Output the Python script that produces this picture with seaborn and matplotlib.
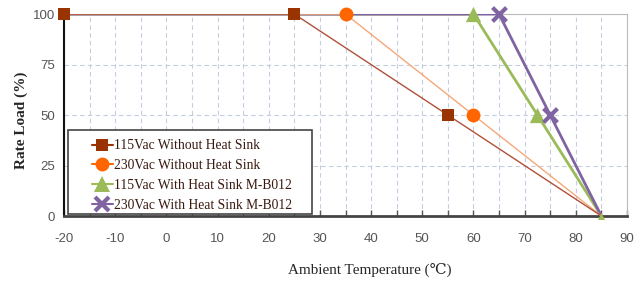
"""
Derating curve: rate load vs ambient temperature.
"""

import matplotlib.pyplot as plt
import seaborn as sns
from matplotlib.patches import Rectangle
from matplotlib.ticker import MultipleLocator

# ==========================================================
# Data
# ==========================================================

LABELS = [
    "115Vac Without Heat Sink",
    "230Vac Without Heat Sink",
    "115Vac With Heat Sink M-B012",
    "230Vac With Heat Sink M-B012",
]

TEMP_115_NO_SINK = [-20, 25, 55, 85]
LOAD_115_NO_SINK = [100, 100, 50, 0]

TEMP_230_NO_SINK = [-20, 35, 60, 85]
LOAD_230_NO_SINK = [100, 100, 50, 0]

TEMP_115_SINK = [-20, 60, 72.5, 85]
LOAD_115_SINK = [100, 100, 50, 0]

TEMP_230_SINK = [-20, 65, 75, 85]
LOAD_230_SINK = [100, 100, 50, 0]

# which points carry a marker
MARK_115_NO_SINK = [0, 1, 2]
MARK_230_NO_SINK = [1, 2]
MARK_115_SINK = [1, 2]
MARK_230_SINK = [1, 2]

# ==========================================================
# Style
# ==========================================================

sns.set_style("white")
plt.rcParams["font.family"] = ["Liberation Sans", "DejaVu Sans"]
plt.rcParams["axes.unicode_minus"] = False

SERIF = ["Liberation Serif", "DejaVu Serif"]

fig = plt.figure(figsize=(6.44, 2.82), dpi=100)
ax = fig.add_axes([0.0994, 0.234, 0.8742, 0.716])

# (x, y, marked points, marker, size, marker colour, line colour, width, z)
series = [
    (TEMP_115_NO_SINK, LOAD_115_NO_SINK, MARK_115_NO_SINK,
     "s", 9, "#993300", "#b0503a", 1.0, 3.4),
    (TEMP_230_NO_SINK, LOAD_230_NO_SINK, MARK_230_NO_SINK,
     "o", 10, "#ff6600", "#f5a878", 1.0, 3.3),
    (TEMP_115_SINK, LOAD_115_SINK, MARK_115_SINK,
     "^", 11, "#9bbb59", "#9bbb59", 2.0, 3.1),
    (TEMP_230_SINK, LOAD_230_SINK, MARK_230_SINK,
     "x", 10, "#8064a2", "#8064a2", 2.0, 3.2),
]

handles = []

for (xs, ys, marks, mk, ms, mcolor, lcolor, lw, z), label in zip(series, LABELS):

    sns.lineplot(
        x=xs,
        y=ys,
        ax=ax,
        color=lcolor,
        linewidth=lw,
        sort=False,
        zorder=z
    )

    sns.scatterplot(
        x=[xs[i] for i in marks],
        y=[ys[i] for i in marks],
        ax=ax,
        marker=mk,
        s=ms ** 2,
        color=mcolor,
        linewidth=3 if mk == "x" else 0,
        clip_on=False,
        zorder=4
    )

    h, = ax.plot(
        [], [],
        color=mcolor,
        marker=mk,
        markersize=ms,
        markeredgewidth=3 if mk == "x" else 0,
        linewidth=1.5
    )
    handles.append(h)

# small marker at the end point
sns.scatterplot(
    x=[TEMP_115_SINK[-1]],
    y=[LOAD_115_SINK[-1]],
    ax=ax,
    marker="^",
    s=25,
    color="#9bbb59",
    linewidth=0,
    clip_on=False,
    zorder=5
)

# ==========================================================
# Axes
# ==========================================================

ax.set_xlim(-20, 90)
ax.set_ylim(0, 100)

ax.xaxis.set_major_locator(MultipleLocator(10))
ax.xaxis.set_minor_locator(MultipleLocator(5))
ax.yaxis.set_major_locator(MultipleLocator(25))

ax.grid(
    which="both",
    axis="x",
    color="#c5cde0",
    linestyle=(0, (4, 3)),
    linewidth=0.8
)
ax.grid(
    which="major",
    axis="y",
    color="#c5cde0",
    linestyle=(0, (4, 3)),
    linewidth=0.8
)

ax.tick_params(
    axis="x",
    which="both",
    direction="in",
    length=4,
    width=1,
    color="#555555",
    bottom=True,
    labelsize=9.5,
    labelcolor="#555555",
    pad=12
)
ax.tick_params(
    axis="y",
    which="both",
    left=False,
    labelsize=9.5,
    labelcolor="#555555",
    pad=3
)

for side in ["top", "right"]:
    ax.spines[side].set_color("#bbbbbb")
    ax.spines[side].set_linewidth(0.8)

ax.spines["left"].set_color("#111111")
ax.spines["left"].set_linewidth(1.5)
ax.spines["bottom"].set_color("#444444")
ax.spines["bottom"].set_linewidth(2)

ax.set_xlabel(
    "Ambient Temperature (℃)",
    family=SERIF,
    fontsize=10.9,
    labelpad=13
)
ax.xaxis.label.set_x(0.5435)

ax.set_ylabel(
    "Rate Load (%)",
    family=SERIF,
    fontsize=11,
    fontweight="bold",
    labelpad=3.5
)
ax.yaxis.label.set_y(0.475)

# ==========================================================
# Legend
# ==========================================================

ax.add_patch(Rectangle(
    (0.007, 0.01), 0.433, 0.416,
    transform=ax.transAxes,
    facecolor="white",
    edgecolor="#444444",
    linewidth=1.2,
    zorder=6
))

leg = ax.legend(
    handles,
    LABELS,
    loc="upper left",
    bbox_to_anchor=(0.05, 0.38),
    prop={"family": SERIF, "size": 9.8},
    labelcolor="#3a1a10",
    handlelength=1.5,
    handletextpad=0.1,
    borderpad=0,
    borderaxespad=0,
    labelspacing=0.5,
    frameon=False
)
leg.set_zorder(7)

plt.savefig("out.png", dpi=100)
plt.close()
